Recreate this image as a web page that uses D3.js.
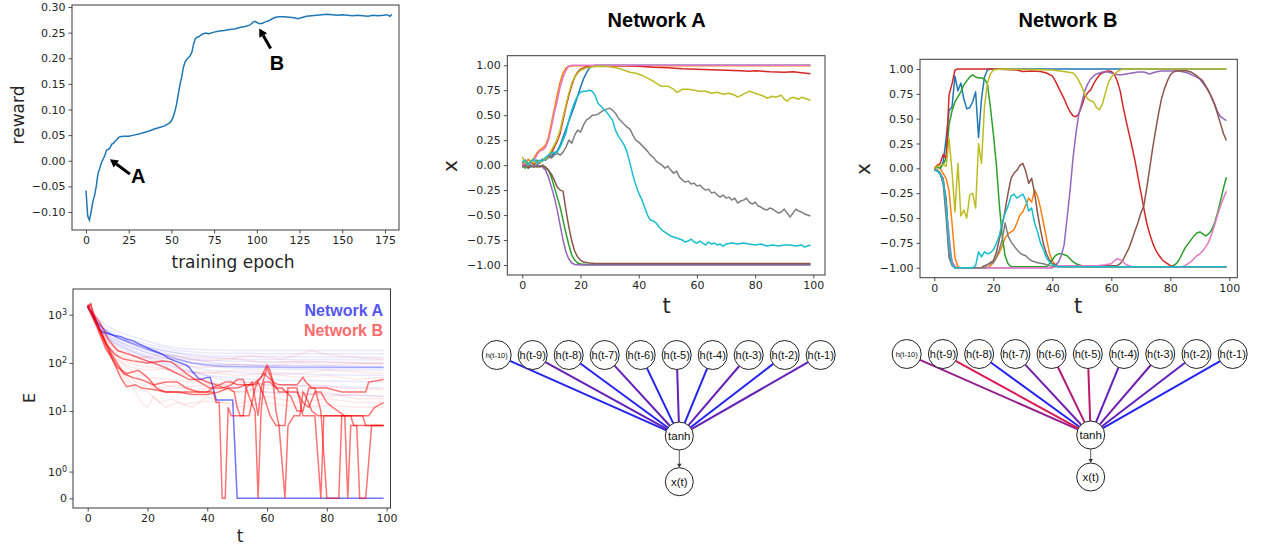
<!DOCTYPE html>
<html><head><meta charset="utf-8">
<script src="https://cdn.jsdelivr.net/npm/d3@7"></script>
<style>
body{margin:0;background:#fff;}
svg{display:block;}
text{font-family:"DejaVu Sans",sans-serif;}
</style></head><body>
<svg id="c" width="1262" height="548"></svg>
<script>
// ---------------- DATA ----------------
const rewardEpoch = [0,1,2,3,4,5,6,7,8,9,10,11,12,13,14,15,16,17,18,19,20,22,25,28,31,34,37,40,43,46,49,50,51,52,53,54,55,56,57,58,59,60,61,62,63,64,65,66,68,70,72,75,78,81,84,87,90,93,96,98,99,101,103,105,107,109,111,113,116,119,122,124,126,129,132,135,138,141,144,147,150,153,156,159,162,165,168,171,174,176,178,179];
const rewardValue = [-0.058,-0.108,-0.116,-0.100,-0.080,-0.068,-0.050,-0.025,-0.015,-0.004,0.003,0.010,0.021,0.022,0.025,0.032,0.034,0.038,0.041,0.045,0.047,0.048,0.048,0.050,0.052,0.055,0.058,0.062,0.065,0.068,0.074,0.078,0.085,0.096,0.110,0.130,0.148,0.163,0.182,0.193,0.198,0.201,0.205,0.212,0.228,0.238,0.241,0.242,0.247,0.249,0.248,0.251,0.253,0.254,0.256,0.257,0.260,0.262,0.265,0.271,0.272,0.268,0.268,0.271,0.273,0.277,0.280,0.281,0.281,0.280,0.279,0.277,0.279,0.282,0.283,0.284,0.285,0.286,0.285,0.284,0.285,0.284,0.283,0.284,0.283,0.282,0.284,0.283,0.284,0.285,0.282,0.286];
const rewardXTicks = [0,25,50,75,100,125,150,175];
const rewardYTicks = [-0.10,-0.05,0.00,0.05,0.10,0.15,0.20,0.25,0.30];
const annotA = {label:"A", tip:[14.0,0.003], tail:[25.7,-0.026], text:[30.6,-0.044]};
const annotB = {label:"B", tip:[101.4,0.258], tail:[108.1,0.219], text:[111.8,0.178]};

// E plot (symlog, linthresh 2)
const eXTicks = [0,20,40,60,80,100];
const eYTicks = [0,1,10,100,1000];
const eYTickLabels = [["0",""],["10","0"],["10","1"],["10","2"],["10","3"]];
const eBlueFaint = [
 [[0,1700],[3,900],[6,600],[10,450],[15,350],[20,280],[25,230],[30,200],[40,185],[50,180],[70,180],[99,180]],
 [[0,1600],[3,800],[6,500],[10,380],[15,300],[20,240],[30,180],[40,160],[60,155],[99,155]],
 [[0,1500],[3,700],[6,450],[10,330],[15,260],[20,210],[30,160],[40,140],[60,135],[99,130]],
 [[0,1500],[4,600],[8,380],[12,280],[18,200],[25,150],[35,120],[45,110],[60,105],[99,100]],
 [[0,1400],[4,550],[8,340],[12,250],[18,180],[25,130],[35,100],[50,90],[99,85]],
 [[0,1450],[4,520],[8,320],[14,220],[20,160],[30,110],[40,85],[55,75],[99,70]],
 [[0,1500],[4,500],[8,300],[14,200],[20,140],[30,95],[40,70],[55,60],[99,55]],
 [[0,1550],[4,480],[8,280],[14,180],[22,120],[30,80],[40,55],[55,45],[99,40]],
 [[0,1500],[4,450],[9,260],[15,170],[22,110],[32,70],[45,45],[60,35],[99,30]],
 [[0,1400],[4,420],[9,240],[15,150],[22,95],[32,55],[45,35],[60,25],[99,20]],
 [[0,1600],[3,700],[7,420],[12,300],[18,230],[25,180],[35,140],[50,120],[99,115]],
 [[0,1500],[5,500],[10,330],[16,240],[24,170],[34,120],[45,95],[60,88],[99,80]]
];
const eRedFaint = [
 [[0,1500],[3,600],[6,250],[10,150],[15,120],[20,100],[25,110],[30,90],[40,80],[50,95],[60,85],[70,100],[80,90],[90,95],[99,100]],
 [[0,1400],[3,500],[6,200],[10,110],[15,80],[20,70],[25,75],[30,60],[40,65],[50,55],[60,60],[70,50],[80,55],[90,45],[99,50]],
 [[0,1600],[4,400],[8,120],[12,50],[16,25],[18,15],[20,12],[22,20],[26,12],[30,15],[35,12],[40,20],[45,15],[50,12],[60,15],[70,12],[80,13],[90,12],[99,12]],
 [[0,1500],[4,450],[8,150],[12,70],[16,40],[20,35],[25,30],[30,35],[35,25],[40,30],[50,25],[60,30],[70,25],[80,20],[90,22],[99,20]],
 [[0,1450],[3,700],[6,300],[10,180],[15,140],[20,130],[30,120],[40,110],[50,120],[60,100],[70,110],[80,105],[90,100],[99,95]],
 [[0,1500],[4,500],[8,180],[12,90],[16,60],[20,50],[28,45],[35,40],[45,35],[55,40],[65,30],[75,35],[85,30],[99,28]],
 [[0,1550],[4,450],[8,140],[12,60],[16,30],[20,25],[24,15],[28,18],[32,14],[40,16],[50,14],[60,20],[70,15],[80,18],[90,15],[99,15]],
 [[0,1500],[3,600],[7,220],[11,120],[16,90],[22,80],[30,70],[40,60],[50,70],[60,65],[70,60],[80,70],[90,65],[99,60]],
 [[0,1450],[4,400],[8,130],[12,60],[16,45],[22,40],[30,30],[40,35],[50,25],[60,25],[70,20],[80,25],[90,18],[99,18]],
 [[0,1600],[3,650],[7,260],[12,150],[18,130],[25,150],[35,130],[45,120],[55,140],[65,120],[75,180],[80,150],[90,130],[99,120]]
];
const eBlueMid = [[0,1500],[3,700],[6,450],[10,330],[15,250],[20,190],[25,150],[30,120],[35,100],[40,90],[45,85],[55,82],[70,80],[99,80]];
const eBlueBold = [[0,1450],[1,1200],[2,900],[3,700],[4,500],[5,430],[7,400],[9,370],[11,350],[13,310],[15,290],[17,250],[19,220],[21,190],[23,170],[25,150],[27,125],[29,110],[31,100],[33,90],[34,80],[35,66],[37,48],[38,46],[40,50],[41,50],[42,30],[43,17],[48.5,17],[50,0],[99,0]];
const eRedBold = [
 [[0,1500],[1,1700],[2,900],[5,350],[8,130],[11,50],[13,32],[16,35],[18,30],[22,28],[26,25],[30,25],[35,25],[40,25],[42,25],[43,15],[44,15],[45,0],[46,0],[47,12],[48,8],[50,8],[52,8],[53,30],[55,40],[57,8],[58,30],[60,80],[61,55],[62,40],[63,10],[64,5],[66,5],[67,30],[70,30],[72,8],[74,8],[76,8],[78,0],[79,8],[82,8],[86,8],[87,0],[88,5],[90,5],[91,0],[93,0],[95,5],[99,5]],
 [[0,1400],[1,1600],[3,700],[6,250],[9,150],[12,120],[15,110],[20,100],[25,110],[28,105],[30,85],[33,60],[36,45],[39,35],[41,30],[44,35],[46,40],[48,40],[50,35],[55,35],[58,50],[60,90],[61,70],[62,40],[64,35],[67,35],[70,35],[72,50],[73,40],[75,30],[80,30],[85,25],[90,25],[93,25],[94,40],[99,45]],
 [[0,1500],[3,600],[6,200],[10,80],[13,60],[17,70],[20,50],[23,30],[26,25],[30,25],[35,22],[40,22],[44,25],[47,30],[49,25],[50,12],[51,8],[54,8],[56,30],[57,40],[59,20],[61,8],[63,5],[64,5],[66,0],[67,5],[69,8],[71,8],[72,25],[73,20],[75,10],[77,8],[79,8],[82,8],[86,8],[90,8],[92,8],[93,5],[95,5],[99,5]],
 [[0,1600],[4,500],[8,150],[12,60],[15,50],[18,45],[22,35],[26,40],[30,40],[33,30],[37,25],[40,25],[42,30],[45,30],[48,35],[50,45],[52,45],[54,20],[56,10],[57,0],[58,10],[59,40],[61,40],[63,30],[65,30],[68,20],[70,10],[72,10],[74,30],[76,30],[78,10],[80,0],[84,0],[85,8],[87,8],[88,8],[89,5],[92,5],[94,5],[96,5],[99,5]],
 [[0,1450],[4,700],[7,300],[10,180],[14,150],[18,120],[22,100],[26,80],[30,60],[34,45],[38,45],[40,40],[43,35],[46,30],[50,30],[53,35],[56,35],[59,60],[62,40],[64,25],[66,25],[70,25],[72,15],[74,12],[76,25],[78,25],[80,15],[82,12],[86,8],[90,8],[94,8],[96,12],[99,15]]
];

// Network A time series (tab10 order)
const tTicks = [0,20,40,60,80,100];
const xTicks = [-1.00,-0.75,-0.50,-0.25,0.00,0.25,0.50,0.75,1.00];
const tab10 = ["#1f77b4","#ff7f0e","#2ca02c","#d62728","#9467bd","#8c564b","#e377c2","#7f7f7f","#bcbd22","#17becf"];
const blueA = [[0,0.02],[1,0.05],[2,0.01],[3,0.04],[4,0.0],[5,0.05],[6,0.03],[7,0.06],[8,0.05],[9,0.08],[10,0.09],[11,0.12],[12,0.14],[13,0.2],[14,0.28],[15,0.36],[16,0.44],[17,0.52],[18,0.6],[19,0.69],[20,0.78],[21,0.86],[22,0.92],[23,0.97],[24,0.99],[25,1.0],[99,1.0]];
const orangeA = [[0,0.03],[1,0.0],[2,0.06],[3,0.03],[4,0.07],[5,0.12],[6,0.15],[7,0.17],[8,0.2],[9,0.28],[10,0.42],[11,0.56],[12,0.7],[13,0.83],[14,0.92],[15,0.97],[16,0.99],[18,0.995],[99,0.995]];
const greenA = [[0,0.0],[1,-0.03],[2,0.02],[3,-0.02],[4,0.0],[5,-0.02],[6,-0.01],[7,-0.01],[8,-0.03],[9,-0.05],[10,-0.12],[11,-0.22],[12,-0.32],[13,-0.42],[14,-0.55],[15,-0.68],[16,-0.8],[17,-0.9],[18,-0.95],[19,-0.98],[20,-0.99],[22,-0.995],[99,-0.995]];
const redA = [[0,0.0],[1,0.02],[2,-0.02],[3,0.03],[4,0.01],[5,0.04],[6,0.03],[7,0.05],[8,0.06],[9,0.08],[10,0.12],[11,0.18],[12,0.24],[13,0.32],[14,0.45],[15,0.58],[16,0.7],[17,0.8],[18,0.88],[19,0.93],[20,0.96],[22,0.985],[25,0.995],[35,0.995],[40,0.99],[45,0.98],[50,0.975],[55,0.965],[60,0.96],[65,0.955],[70,0.95],[75,0.945],[78,0.94],[80,0.945],[85,0.935],[90,0.93],[93,0.935],[96,0.925],[99,0.915]];
const purpleA = [[0,-0.01],[1,0.0],[2,-0.03],[3,-0.01],[4,-0.02],[5,0.0],[6,-0.01],[7,-0.02],[8,-0.05],[9,-0.12],[10,-0.22],[11,-0.32],[12,-0.45],[13,-0.6],[14,-0.75],[15,-0.87],[16,-0.94],[17,-0.98],[18,-0.995],[20,-1.0],[99,-1.0]];
const brownA = [[0,-0.02],[1,0.01],[2,-0.03],[3,0.0],[4,-0.02],[5,-0.01],[6,-0.02],[7,0.0],[8,-0.02],[9,-0.05],[10,-0.09],[11,-0.15],[12,-0.22],[13,-0.25],[14,-0.26],[15,-0.45],[16,-0.62],[17,-0.76],[18,-0.86],[19,-0.92],[20,-0.95],[21,-0.97],[23,-0.98],[25,-0.985],[99,-0.985]];
const pinkA = [[0,0.0],[1,0.02],[2,0.0],[3,0.03],[4,0.04],[5,0.1],[6,0.14],[7,0.15],[8,0.18],[9,0.25],[10,0.38],[11,0.52],[12,0.64],[13,0.78],[14,0.88],[15,0.95],[16,0.99],[17,1.0],[99,1.0]];
const grayA = [[0,-0.02],[2,0.0],[4,-0.01],[6,0.02],[7,0.05],[8,0.06],[9,0.08],[10,0.07],[11,0.1],[12,0.12],[13,0.1],[14,0.13],[15,0.18],[16,0.25],[17,0.22],[18,0.3],[19,0.35],[20,0.33],[21,0.4],[22,0.45],[23,0.47],[24,0.5],[25,0.5],[26,0.51],[27,0.53],[28,0.55],[29,0.56],[30,0.57],[31,0.55],[32,0.52],[33,0.47],[34,0.44],[35,0.41],[36,0.38],[37,0.36],[38,0.3],[39,0.25],[40,0.23],[41,0.2],[42,0.17],[43,0.14],[44,0.1],[45,0.08],[46,0.04],[47,0.02],[48,0.0],[49,-0.03],[50,-0.01],[51,-0.05],[52,-0.08],[53,-0.06],[54,-0.12],[55,-0.15],[56,-0.17],[57,-0.16],[58,-0.19],[59,-0.18],[60,-0.21],[61,-0.2],[62,-0.23],[63,-0.25],[64,-0.24],[65,-0.28],[66,-0.27],[67,-0.3],[68,-0.32],[69,-0.3],[70,-0.33],[71,-0.32],[72,-0.35],[73,-0.33],[74,-0.38],[75,-0.36],[76,-0.35],[77,-0.33],[78,-0.37],[79,-0.39],[80,-0.37],[81,-0.41],[82,-0.42],[83,-0.44],[84,-0.45],[85,-0.43],[86,-0.44],[87,-0.46],[88,-0.48],[89,-0.47],[90,-0.44],[91,-0.48],[92,-0.52],[93,-0.48],[94,-0.44],[95,-0.46],[96,-0.47],[97,-0.49],[98,-0.5],[99,-0.51]];
const oliveA = [[0,0.08],[1,0.03],[2,0.0],[3,0.05],[4,0.02],[5,0.04],[6,0.03],[7,0.05],[8,0.06],[9,0.1],[10,0.15],[11,0.2],[12,0.26],[13,0.35],[14,0.48],[15,0.6],[16,0.72],[17,0.82],[18,0.88],[19,0.92],[20,0.95],[22,0.975],[24,0.985],[27,0.99],[30,0.985],[33,0.97],[35,0.95],[37,0.93],[39,0.92],[41,0.9],[43,0.87],[45,0.84],[47,0.8],[48,0.79],[50,0.79],[52,0.76],[53,0.73],[54,0.74],[55,0.76],[57,0.76],[59,0.75],[61,0.74],[63,0.74],[65,0.72],[67,0.73],[69,0.71],[71,0.72],[73,0.7],[74,0.68],[76,0.71],[78,0.74],[79,0.73],[81,0.71],[83,0.69],[84,0.67],[86,0.69],[87,0.68],[89,0.7],[90,0.66],[91,0.64],[92,0.67],[93,0.68],[95,0.66],[96,0.68],[97,0.67],[99,0.65]];
const cyanA = [[0,0.03],[1,0.05],[2,0.0],[3,0.04],[4,0.06],[5,0.02],[6,0.05],[7,0.04],[8,0.08],[9,0.1],[10,0.12],[11,0.13],[12,0.13],[13,0.18],[14,0.25],[15,0.32],[16,0.45],[17,0.55],[18,0.63],[19,0.69],[20,0.73],[21,0.74],[22,0.74],[23,0.75],[24,0.74],[25,0.7],[26,0.62],[27,0.59],[28,0.56],[29,0.53],[30,0.49],[31,0.45],[32,0.35],[33,0.29],[34,0.25],[35,0.2],[36,0.13],[37,0.02],[38,-0.1],[39,-0.2],[40,-0.28],[41,-0.34],[42,-0.42],[43,-0.5],[44,-0.55],[45,-0.56],[46,-0.58],[47,-0.62],[48,-0.65],[49,-0.67],[50,-0.69],[51,-0.71],[52,-0.72],[53,-0.73],[54,-0.74],[55,-0.75],[56,-0.77],[57,-0.76],[58,-0.74],[59,-0.77],[60,-0.78],[61,-0.76],[62,-0.78],[63,-0.8],[64,-0.77],[65,-0.79],[66,-0.78],[67,-0.8],[68,-0.79],[69,-0.81],[70,-0.79],[72,-0.78],[74,-0.79],[76,-0.78],[78,-0.79],[80,-0.8],[82,-0.79],[84,-0.81],[86,-0.8],[88,-0.81],[90,-0.8],[92,-0.8],[94,-0.81],[96,-0.8],[97,-0.82],[99,-0.8]];

// Network B time series
const blueB = [[0,0],[1,0.02],[2,0.0],[3,0.06],[4,0.3],[5,0.58],[6,0.62],[7,0.93],[8,0.78],[9,0.86],[10,0.7],[11,0.6],[12,0.61],[13,0.67],[14,0.77],[15,0.31],[16,0.7],[17,0.92],[18,0.99],[19,1.0],[99,1.0]];
const orangeB = [[0,0],[1,0.02],[2,0.0],[3,-0.05],[4,-0.1],[5,-0.23],[6,-0.55],[7,-0.9],[8,-0.99],[9,-1.0],[18,-1.0],[19,-0.98],[20,-0.95],[21,-0.9],[22,-0.85],[23,-0.78],[24,-0.7],[25,-0.66],[26,-0.64],[27,-0.62],[28,-0.55],[29,-0.47],[30,-0.44],[31,-0.37],[32,-0.3],[33,-0.34],[34,-0.22],[35,-0.28],[36,-0.4],[37,-0.55],[38,-0.7],[39,-0.85],[40,-0.93],[41,-0.97],[43,-0.99],[99,-0.99]];
const greenB = [[0,0],[1,0.01],[2,0.0],[3,0.04],[4,0.1],[5,0.44],[6,0.58],[7,0.67],[8,0.72],[9,0.77],[10,0.84],[11,0.88],[12,0.92],[13,0.94],[14,0.92],[15,0.91],[16,0.91],[17,0.9],[18,0.85],[19,0.62],[20,0.35],[21,0.05],[22,-0.35],[23,-0.68],[24,-0.88],[25,-0.96],[26,-0.99],[38,-0.99],[39,-0.96],[40,-0.92],[41,-0.88],[42,-0.86],[43,-0.86],[44,-0.87],[45,-0.88],[46,-0.91],[47,-0.94],[48,-0.96],[50,-0.98],[55,-0.99],[80,-0.99],[81,-0.98],[82,-0.96],[83,-0.92],[84,-0.86],[85,-0.8],[86,-0.76],[87,-0.72],[88,-0.68],[89,-0.65],[90,-0.64],[91,-0.66],[92,-0.68],[93,-0.66],[94,-0.62],[95,-0.55],[96,-0.45],[97,-0.33],[98,-0.2],[99,-0.09]];
const redB = [[0,0.0],[1,0.03],[2,0.05],[3,0.14],[4,0.1],[5,0.74],[6,0.85],[7,0.99],[8,1.0],[20,1.0],[28,0.99],[30,0.975],[33,0.98],[36,0.975],[38,0.96],[40,0.93],[41,0.88],[42,0.82],[43,0.76],[44,0.7],[45,0.63],[46,0.57],[47,0.53],[48,0.52],[49,0.55],[50,0.63],[51,0.72],[52,0.76],[53,0.79],[54,0.85],[55,0.9],[56,0.94],[57,0.96],[58,0.975],[59,0.98],[60,0.975],[61,0.95],[62,0.88],[63,0.78],[64,0.62],[65,0.48],[66,0.35],[67,0.22],[68,0.08],[69,-0.08],[70,-0.24],[71,-0.4],[72,-0.55],[73,-0.66],[74,-0.75],[75,-0.82],[76,-0.87],[77,-0.91],[78,-0.94],[79,-0.96],[80,-0.98],[82,-0.99],[99,-0.99]];
const purpleB = [[0,0],[1,-0.02],[2,-0.06],[3,-0.15],[4,-0.3],[5,-0.77],[6,-0.94],[7,-0.99],[8,-1.0],[40,-1.0],[41,-0.97],[42,-0.95],[43,-0.88],[44,-0.77],[45,-0.5],[46,-0.23],[47,0.1],[48,0.35],[49,0.55],[50,0.66],[51,0.78],[52,0.85],[53,0.9],[54,0.93],[55,0.95],[57,0.97],[59,0.97],[61,0.95],[63,0.94],[65,0.95],[67,0.96],[69,0.97],[71,0.97],[73,0.95],[75,0.97],[77,0.98],[80,0.98],[83,0.98],[86,0.96],[88,0.93],[90,0.9],[92,0.82],[94,0.72],[95,0.65],[96,0.57],[97,0.52],[98,0.5],[99,0.48]];
const brownB = [[0,0],[1,-0.02],[2,-0.05],[3,-0.1],[4,-0.33],[5,-0.87],[6,-0.97],[7,-1.0],[16,-1.0],[17,-0.98],[18,-0.97],[19,-0.95],[20,-0.93],[21,-0.85],[22,-0.72],[23,-0.58],[24,-0.42],[25,-0.25],[26,-0.1],[27,-0.05],[28,-0.02],[29,0.03],[30,0.05],[31,-0.03],[32,-0.15],[33,-0.1],[34,-0.25],[35,-0.45],[36,-0.62],[37,-0.76],[38,-0.86],[39,-0.92],[40,-0.96],[42,-0.98],[62,-0.98],[63,-0.96],[64,-0.92],[65,-0.86],[66,-0.8],[67,-0.72],[68,-0.63],[69,-0.55],[70,-0.45],[71,-0.38],[72,-0.2],[73,0.0],[74,0.2],[75,0.38],[76,0.55],[77,0.7],[78,0.8],[79,0.88],[80,0.94],[81,0.97],[82,0.98],[85,0.985],[87,0.97],[89,0.93],[91,0.88],[93,0.78],[95,0.64],[96,0.55],[97,0.45],[98,0.35],[99,0.28]];
const pinkB = [[0,0],[1,-0.02],[2,-0.05],[3,-0.12],[4,-0.4],[5,-0.67],[6,-0.95],[7,-1.0],[40,-1.0],[42,-0.98],[55,-0.98],[58,-0.97],[60,-0.96],[61,-0.93],[62,-0.91],[63,-0.92],[64,-0.94],[65,-0.97],[67,-0.99],[84,-0.99],[85,-0.98],[86,-0.96],[87,-0.94],[88,-0.91],[89,-0.88],[90,-0.86],[91,-0.83],[92,-0.79],[93,-0.74],[94,-0.66],[95,-0.57],[96,-0.47],[97,-0.38],[98,-0.3],[99,-0.23]];
const grayB = [[0,0],[1,-0.02],[2,-0.05],[3,-0.15],[4,-0.5],[5,-0.9],[6,-0.98],[7,-1.0],[17,-1.0],[18,-0.97],[19,-0.96],[20,-0.95],[21,-0.9],[22,-0.82],[23,-0.72],[24,-0.55],[25,-0.68],[26,-0.74],[27,-0.78],[28,-0.82],[29,-0.85],[30,-0.87],[31,-0.88],[32,-0.91],[33,-0.93],[34,-0.94],[35,-0.95],[37,-0.96],[39,-0.98],[42,-0.99],[99,-0.99]];
const oliveB = [[0,0.0],[1,0.02],[2,0.03],[3,0.04],[4,0.02],[5,0.3],[6,-0.03],[7,-0.44],[8,0.05],[9,-0.48],[10,-0.42],[11,-0.5],[12,-0.27],[13,-0.25],[14,-0.4],[15,0.25],[16,0.05],[17,0.62],[18,0.86],[19,0.95],[20,0.99],[22,1.0],[40,0.99],[45,0.97],[47,0.96],[48,0.93],[49,0.88],[50,0.82],[51,0.75],[52,0.7],[53,0.68],[54,0.67],[55,0.61],[56,0.59],[57,0.65],[58,0.76],[59,0.86],[60,0.92],[61,0.95],[62,0.97],[63,0.99],[64,1.0],[99,1.0]];
const cyanB = [[0,-0.02],[1,-0.03],[2,-0.06],[3,-0.12],[4,-0.35],[5,-0.75],[6,-0.97],[7,-1.0],[13,-1.0],[14,-0.98],[15,-0.84],[16,-0.89],[17,-0.84],[18,-0.86],[19,-0.85],[20,-0.82],[21,-0.76],[22,-0.68],[23,-0.55],[24,-0.45],[25,-0.38],[26,-0.28],[27,-0.26],[28,-0.3],[29,-0.28],[30,-0.26],[31,-0.32],[32,-0.43],[33,-0.4],[34,-0.55],[35,-0.64],[36,-0.75],[37,-0.82],[38,-0.9],[39,-0.94],[40,-0.97],[42,-0.99],[99,-0.99]];
const seriesA = [blueA,orangeA,greenA,redA,purpleA,brownA,pinkA,grayA,oliveA,cyanA];
const seriesB = [blueB,orangeB,greenB,redB,purpleB,brownB,pinkB,grayB,oliveB,cyanB];

// Network diagrams
const hLabels = ["h(t-10)","h(t-9)","h(t-8)","h(t-7)","h(t-6)","h(t-5)","h(t-4)","h(t-3)","h(t-2)","h(t-1)"];
const edgeMixA = [0.0,0.32,0.0,0.32,0.0,0.32,0.0,0.32,0.0,0.32];
const edgeMixB = [0.55,0.9,0.0,0.38,0.7,0.75,0.3,0.38,0.3,0.0];

// ---------------- DRAWING ----------------
const svg = d3.select("#c");
svg.append("rect").attr("width",1262).attr("height",548).attr("fill","#fff");
const spine = "#3b3b3b", tickCol = "#3b3b3b", labCol = "#262626";

function styleAxis(g, fs){
  g.select(".domain").remove();
  g.selectAll(".tick line").attr("stroke",tickCol).attr("stroke-width",0.9);
  g.selectAll(".tick text").attr("fill",labCol).style("font-size",(fs||11)+"px").style("font-family","DejaVu Sans");
}
function frame(x0,y0,x1,y1){
  svg.append("rect").attr("x",x0).attr("y",y0).attr("width",x1-x0).attr("height",y1-y0)
    .attr("fill","none").attr("stroke",spine).attr("stroke-width",1);
}
function clip(id,x0,y0,x1,y1){
  svg.append("clipPath").attr("id",id).append("rect").attr("x",x0).attr("y",y0).attr("width",x1-x0).attr("height",y1-y0);
}
const fmt2 = d3.format(".2f");

// ---- Reward plot ----
{
  const L=72,R=399,T=5,B=230;
  const x = d3.scaleLinear().domain([-8.19,183.2]).range([L,R]);
  const y = d3.scaleLinear().domain([-0.1351,0.3039]).range([B,T]);
  svg.append("g").attr("transform",`translate(0,${B})`)
    .call(d3.axisBottom(x).tickValues(rewardXTicks).tickSize(3.5).tickPadding(3).tickFormat(d3.format("d"))).call(styleAxis);
  svg.append("g").attr("transform",`translate(${L},0)`)
    .call(d3.axisLeft(y).tickValues(rewardYTicks).tickSize(3.5).tickPadding(3).tickFormat(fmt2)).call(styleAxis);
  const pts = rewardEpoch.map((e,i)=>[e,rewardValue[i]]);
  svg.append("path").datum(pts).attr("fill","none").attr("stroke","#1f77b4").attr("stroke-width",1.5)
    .attr("d",d3.line().x(d=>x(d[0])).y(d=>y(d[1])));
  frame(L,T,R,B);
  svg.append("text").attr("x",233).attr("y",268).attr("text-anchor","middle").style("font-size","17px").attr("fill",labCol).text("training epoch");
  svg.append("text").attr("transform","translate(24,115) rotate(-90)").attr("text-anchor","middle").style("font-size","17px").attr("fill",labCol).text("reward");
  for (const a of [annotA, annotB]){
    const tx=x(a.tip[0]), ty=y(a.tip[1]), sx=x(a.tail[0]), sy=y(a.tail[1]);
    const dx=tx-sx, dy=ty-sy, len=Math.hypot(dx,dy), ux=dx/len, uy=dy/len, px=-uy, py=ux;
    const hl=8, hw=4.5;
    const bx=tx-ux*hl, by=ty-uy*hl;
    svg.append("line").attr("x1",sx).attr("y1",sy).attr("x2",bx).attr("y2",by).attr("stroke","#000").attr("stroke-width",3);
    svg.append("path").attr("d",`M${tx},${ty}L${bx+px*hw},${by+py*hw}L${bx-px*hw},${by-py*hw}Z`).attr("fill","#000");
    svg.append("text").attr("x",x(a.text[0])).attr("y",y(a.text[1])).attr("text-anchor","middle")
      .style("font-family","Liberation Sans, Arial, sans-serif").style("font-weight","bold").style("font-size","20px").attr("fill","#000").text(a.label);
  }
}

// ---- E plot ----
{
  const L=73,R=390.5,T=289,B=508;
  const lt=2, la=1/(1-1/10);
  const symT = v => { const a=Math.abs(v); return a<=lt ? v*la : Math.sign(v)*lt*(la+Math.log10(a/lt)); };
  const x = d3.scaleLinear().domain([-4.92,101.3]).range([L,R]);
  const y = d3.scaleLinear().domain([-0.40,8.685]).range([B,T]);
  clip("clipE",L,T,R,B);
  svg.append("g").attr("transform",`translate(0,${B})`)
    .call(d3.axisBottom(x).tickValues(eXTicks).tickSize(3.5).tickPadding(3).tickFormat(d3.format("d"))).call(styleAxis);
  const ya = svg.append("g").attr("transform",`translate(${L},0)`)
    .call(d3.axisLeft(y).tickValues(eYTicks.map(symT)).tickSize(3.5).tickPadding(3).tickFormat(()=>"")).call(styleAxis);
  ya.selectAll(".tick").each(function(d,i){
    const t = d3.select(this).select("text").text(null).attr("x",-6).attr("dy","0.32em");
    t.append("tspan").text(eYTickLabels[i][0]);
    if (eYTickLabels[i][1]) t.append("tspan").attr("dy","-0.45em").style("font-size","8px").text(eYTickLabels[i][1]);
  });
  const line = d3.line().x(d=>x(d[0])).y(d=>y(symT(d[1])));
  const gl = svg.append("g").attr("clip-path","url(#clipE)");
  eBlueFaint.forEach(s=>gl.append("path").datum(s).attr("fill","none").attr("stroke","#0000ff").attr("stroke-opacity",0.09).attr("stroke-width",1.5).attr("d",line));
  eRedFaint.forEach(s=>gl.append("path").datum(s).attr("fill","none").attr("stroke","#ff0000").attr("stroke-opacity",0.09).attr("stroke-width",1.5).attr("d",line));
  gl.append("path").datum(eBlueMid).attr("fill","none").attr("stroke","#0000ff").attr("stroke-opacity",0.3).attr("stroke-width",1.5).attr("d",line);
  gl.append("path").datum(eBlueBold).attr("fill","none").attr("stroke","#0000ff").attr("stroke-opacity",0.55).attr("stroke-width",1.5).attr("d",line);
  eRedBold.forEach(s=>gl.append("path").datum(s).attr("fill","none").attr("stroke","#ff0000").attr("stroke-opacity",0.55).attr("stroke-width",1.5).attr("d",line));
  frame(L,T,R,B);
  svg.append("text").attr("x",383).attr("y",316).attr("text-anchor","end").style("font-family","Liberation Sans, Arial, sans-serif").style("font-weight","bold").style("font-size","16px").attr("fill","#5555f5").text("Network A");
  svg.append("text").attr("x",383).attr("y",336).attr("text-anchor","end").style("font-family","Liberation Sans, Arial, sans-serif").style("font-weight","bold").style("font-size","16px").attr("fill","#ff6a6a").text("Network B");
  svg.append("text").attr("x",240).attr("y",542).attr("text-anchor","middle").style("font-size","17px").attr("fill",labCol).text("t");
  svg.append("text").attr("transform","translate(35,398) rotate(-90)").attr("text-anchor","middle").style("font-size","16px").attr("fill",labCol).text("E");
}

// ---- Time series panels ----
function tsPanel(o){
  const x = d3.scaleLinear().domain(o.xd).range([o.L,o.R]);
  const y = d3.scaleLinear().domain(o.yd).range([o.B,o.T]);
  clip(o.id,o.L,o.T,o.R,o.B);
  svg.append("g").attr("transform",`translate(0,${o.B})`)
    .call(d3.axisBottom(x).tickValues(tTicks).tickSize(3.5).tickPadding(3).tickFormat(d3.format("d"))).call(styleAxis);
  svg.append("g").attr("transform",`translate(${o.L},0)`)
    .call(d3.axisLeft(y).tickValues(xTicks).tickSize(3.5).tickPadding(3).tickFormat(fmt2)).call(styleAxis);
  const line = d3.line().x(d=>x(d[0])).y(d=>y(d[1]));
  const g = svg.append("g").attr("clip-path",`url(#${o.id})`);
  o.series.forEach((s,i)=>g.append("path").datum(s).attr("fill","none").attr("stroke",tab10[i]).attr("stroke-width",1.5).attr("stroke-linejoin","round").attr("d",line));
  frame(o.L,o.T,o.R,o.B);
  svg.append("text").attr("x",o.titleX).attr("y",27).attr("text-anchor","middle")
    .style("font-family","Liberation Sans, Arial, sans-serif").style("font-weight","bold").style("font-size","20px").attr("fill","#000").text(o.title);
  svg.append("text").attr("x",o.tX).attr("y",313).attr("text-anchor","middle").style("font-size","21px").attr("fill",labCol).text("t");
  svg.append("text").attr("transform",`translate(${o.xLX},${o.xLY}) rotate(-90)`).attr("text-anchor","middle").attr("dy","0.35em").style("font-size","20px").attr("fill",labCol).text("x");
}
tsPanel({id:"clipA",L:507.3,R:825,T:55.7,B:275,xd:[-5.15,104.0],yd:[-1.0998,1.0951],series:seriesA,title:"Network A",titleX:656.7,tX:666.7,xLX:450,xLY:166});
tsPanel({id:"clipB",L:920,R:1237.3,T:59.3,B:277.7,xd:[-4.85,102.7],yd:[-1.1007,1.0976],series:seriesB,title:"Network B",titleX:1068,tX:1078,xLX:862.7,xLY:169});

// ---- Network diagrams ----
function diagram(o){
  const xs = d3.scalePoint().domain(hLabels).range([o.x0,o.x1]);
  const col = d3.interpolateRgb("#2424f0","#ee1840");
  const r = 14.5, rt = 14;
  const g = svg.append("g");
  hLabels.forEach((h,i)=>{
    const cx=xs(h), cy=o.hy, dx=o.tx-cx, dy=o.ty-cy, len=Math.hypot(dx,dy), ux=dx/len, uy=dy/len;
    g.append("line").attr("x1",cx+ux*r).attr("y1",cy+uy*r).attr("x2",o.tx-ux*rt).attr("y2",o.ty-uy*rt)
      .attr("stroke",col(o.mix[i])).attr("stroke-width",2);
  });
  hLabels.forEach(h=>{
    g.append("circle").attr("cx",xs(h)).attr("cy",o.hy).attr("r",r).attr("fill","#fff").attr("stroke","#222").attr("stroke-width",1);
    g.append("text").attr("x",xs(h)).attr("y",o.hy).attr("dy","0.35em").attr("text-anchor","middle")
      .style("font-family","Liberation Sans, Arial, sans-serif").style("font-size",h.length>6?"7.5px":"11px").attr("fill","#111").text(h);
  });
  g.append("circle").attr("cx",o.tx).attr("cy",o.ty).attr("r",rt).attr("fill","#fff").attr("stroke","#222").attr("stroke-width",1);
  g.append("text").attr("x",o.tx).attr("y",o.ty).attr("dy","0.35em").attr("text-anchor","middle").style("font-family","Liberation Sans, Arial, sans-serif").style("font-size","11.5px").attr("fill","#111").text("tanh");
  g.append("line").attr("x1",o.tx).attr("y1",o.ty+rt).attr("x2",o.tx).attr("y2",o.xy-rt-3).attr("stroke","#333").attr("stroke-width",0.8);
  g.append("path").attr("d",`M${o.tx},${o.xy-rt}L${o.tx-2.2},${o.xy-rt-4}L${o.tx+2.2},${o.xy-rt-4}Z`).attr("fill","#333");
  g.append("circle").attr("cx",o.tx).attr("cy",o.xy).attr("r",rt).attr("fill","#fff").attr("stroke","#222").attr("stroke-width",1);
  g.append("text").attr("x",o.tx).attr("y",o.xy).attr("dy","0.35em").attr("text-anchor","middle").style("font-family","Liberation Sans, Arial, sans-serif").style("font-size","11.5px").attr("fill","#111").text("x(t)");
}
diagram({x0:496.7,x1:820.7,hy:355,tx:679.3,ty:436,xy:481.7,mix:edgeMixA});
diagram({x0:906.7,x1:1232.7,hy:354,tx:1090.7,ty:435,xy:477,mix:edgeMixB});
</script>
</body></html>
